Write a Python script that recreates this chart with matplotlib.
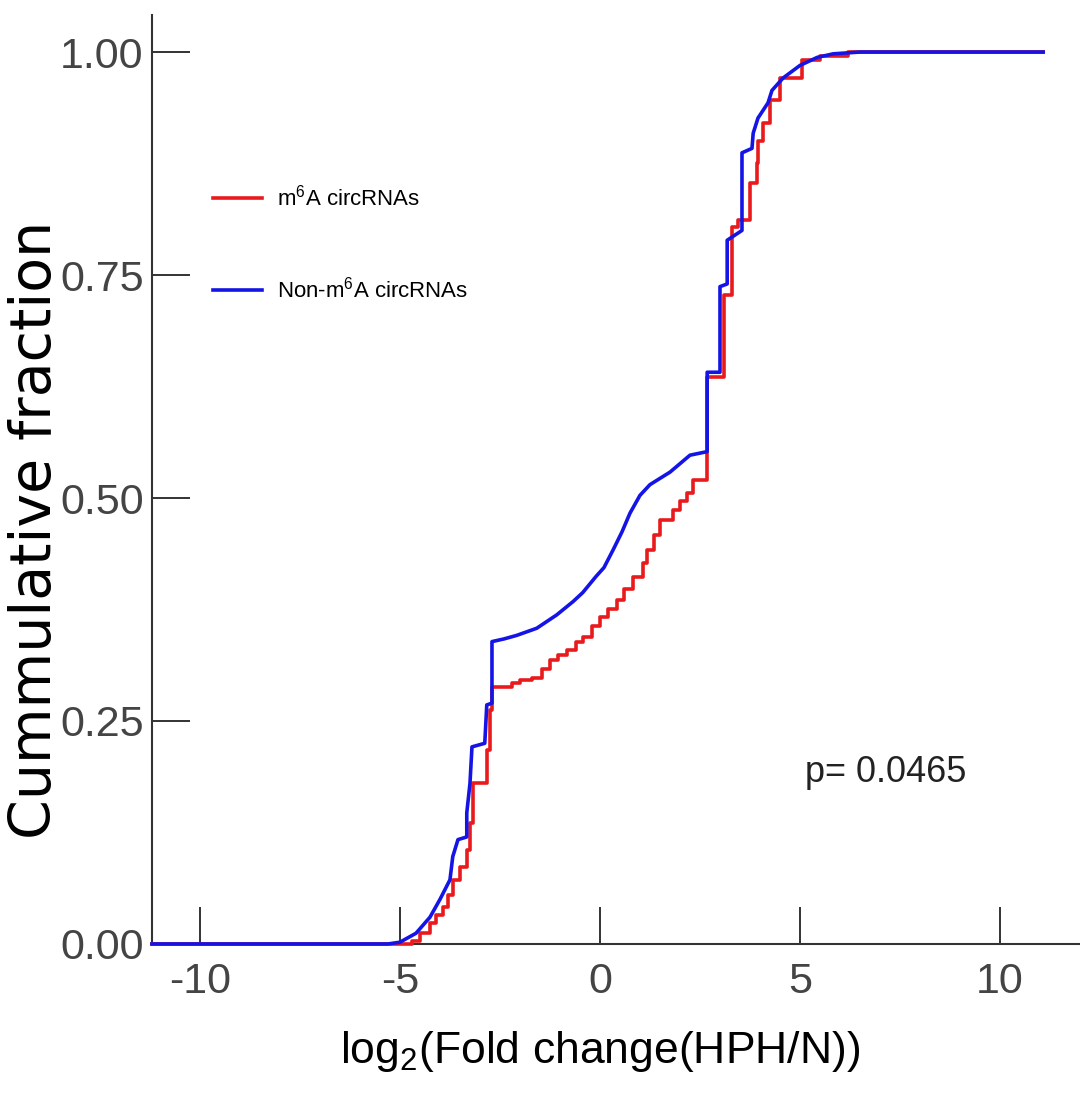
import matplotlib
matplotlib.use("Agg")
import matplotlib.pyplot as plt

# ECDF vertices
blue_x = [-11.2, -5.3, -5.0, -4.6, -4.25, -4.0, -3.75, -3.68, -3.55, -3.33, -3.33,
          -3.25, -3.2, -2.88, -2.83, -2.7, -2.7, -2.4, -2.08, -1.58, -1.08, -0.67,
          -0.43, -0.1, 0.1, 0.33, 0.55, 0.75, 1.0, 1.25, 1.75, 2.25, 2.68, 2.68,
          3.0, 3.0, 3.18, 3.18, 3.55, 3.55, 3.8, 3.83, 3.95, 4.2, 4.3, 4.58, 5.0,
          5.43, 5.83, 6.5, 11.08]
blue_y = [0.0, 0.0, 0.002, 0.012, 0.03, 0.05, 0.072, 0.098, 0.117, 0.12, 0.147,
          0.18, 0.221, 0.225, 0.268, 0.27, 0.339, 0.342, 0.346, 0.354, 0.369, 0.384,
          0.394, 0.412, 0.422, 0.442, 0.462, 0.483, 0.503, 0.515, 0.529, 0.548, 0.552, 0.641,
          0.641, 0.737, 0.74, 0.789, 0.80, 0.887, 0.892, 0.909, 0.926, 0.943, 0.957, 0.971, 0.985,
          0.994, 0.998, 1.0, 1.0]

red_x = [-11.2, -4.7, -4.5, -4.25, -4.1, -3.93, -3.8, -3.68, -3.5, -3.33, -3.25,
         -3.18, -2.83, -2.75, -2.7, -2.2, -2.0, -1.7, -1.45, -1.25, -1.05, -0.83,
         -0.6, -0.43, -0.2, 0.0, 0.2, 0.43, 0.6, 0.83, 1.08, 1.18, 1.35, 1.5, 1.83,
         2.0, 2.18, 2.33, 2.68, 3.1, 3.3, 3.45, 3.75, 3.92, 3.95, 4.08, 4.25, 4.5,
         5.05, 5.5, 6.2, 11.08]
red_y = [0.0, 0.003, 0.012, 0.024, 0.032, 0.041, 0.055, 0.072, 0.086, 0.105, 0.136,
         0.18, 0.217, 0.262, 0.288, 0.293, 0.296, 0.298, 0.308, 0.318, 0.324, 0.33,
         0.338, 0.344, 0.356, 0.367, 0.376, 0.386, 0.398, 0.411, 0.427, 0.442, 0.458,
         0.475, 0.487, 0.497, 0.506, 0.52, 0.636, 0.728, 0.804, 0.812, 0.853, 0.876,
         0.9, 0.92, 0.946, 0.971, 0.991, 0.996, 1.0, 1.0]

labels = ["m$^6$A circRNAs", "Non-m$^6$A circRNAs"]
xticks = [-10, -5, 0, 5, 10]
yticks = [0.0, 0.25, 0.5, 0.75, 1.0]
p_text = "p= 0.0465"

sans = "Liberation Sans"
plt.rcParams["font.family"] = [sans, "DejaVu Sans"]
plt.rcParams["mathtext.fontset"] = "custom"
plt.rcParams["mathtext.rm"] = sans
plt.rcParams["mathtext.it"] = sans

fig = plt.figure(figsize=(10.8, 10.97), dpi=100)
ax = fig.add_axes([0.1407, 0.1395, 0.8593, 0.8468])

ax.plot(red_x, red_y, color="#e81a1c", lw=2.6, drawstyle="steps-post",
        label=labels[0], clip_on=False, zorder=3)
ax.plot(blue_x, blue_y, color="#1414e6", lw=2.6, label=labels[1],
        clip_on=False, zorder=4)

ax.set_xlim(-11.2, 12.0)
ax.set_ylim(0, 1.0415)
for side in ["top", "right"]:
    ax.spines[side].set_visible(False)
for side in ["left", "bottom"]:
    ax.spines[side].set_color("#333333")
    ax.spines[side].set_linewidth(1.5)

ax.set_xticks(xticks)
ax.set_xticklabels([str(t) for t in xticks])
ax.set_yticks(yticks)
ax.set_yticklabels([f"{t:.2f}" for t in yticks])
ax.tick_params(direction="in", length=27, width=1.4, color="#333333",
               labelsize=31, labelcolor="#444444")
ax.tick_params(axis="y", pad=6)
ax.tick_params(axis="x", pad=13)

ax.set_xlabel("log$_2$(Fold change(HPH/N))", fontsize=32)
ax.xaxis.set_label_coords(0.483, -0.092)
ax.set_ylabel("Cummulative fraction", fontsize=41, family="DejaVu Sans")
ax.yaxis.set_label_coords(-0.096, 0.446)

ax.legend(loc="upper left", bbox_to_anchor=(213 / 1080, 1 - 185 / 1097),
          bbox_transform=fig.transFigure, frameon=False, fontsize=16,
          handlelength=2.2, handletextpad=0.7, labelspacing=2.95, borderpad=0,
          borderaxespad=0)

ax.text(5.12, 0.192, p_text, fontsize=26, color="#222222", va="center")

fig.savefig("out.png", dpi=100)
